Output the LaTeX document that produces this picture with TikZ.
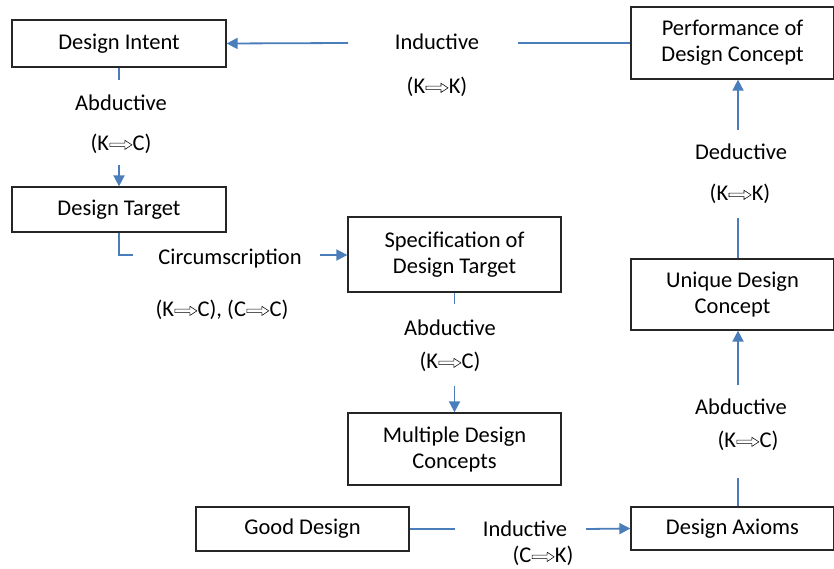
\documentclass[tikz,border=0pt]{standalone}
\usepackage{fontspec}
\setmainfont{Carlito}
\usetikzlibrary{arrows.meta}
\definecolor{conblue}{HTML}{4A7EBB}
\newcommand{\imp}{\hspace{0.5pt}\tikz[x=1pt,y=1pt,baseline=-5.8pt]{\draw[black, line width=0.55pt, fill=white, line join=miter]
  (0,-1.7) -- (15,-1.7) -- (15,-4.6) -- (22,0) -- (15,4.6) -- (15,1.7) -- (0,1.7) -- cycle;}\hspace{0.5pt}}
\begin{document}
\begin{tikzpicture}[x=1pt,y=-1pt,
  every node/.style={font=\fontsize{22.5}{26}\selectfont, text=black},
  box/.style={draw=black!85, line width=1.3pt, align=center, inner sep=0pt},
  lbl/.style={inner sep=0pt, anchor=center},
  con/.style={draw=conblue, line width=1.8pt},
  arr/.style={con, -{Triangle[length=11pt,width=11pt]}}]
\useasboundingbox (0,0) rectangle (834,569);
\fill[white] (0,0) rectangle (834,569);
% boxes
\node[box, minimum width=214pt, minimum height=47pt] (di) at (119,43.5) {Design Intent};
\node[box, minimum width=214pt, minimum height=45pt] (dt) at (119,209.5) {Design Target};
\node[box, minimum width=213pt, minimum height=75pt] (spec) at (454.5,254.5) {Specification of\\Design Target};
\node[box, minimum width=213pt, minimum height=72pt] (mdc) at (454.5,449) {Multiple Design\\Concepts};
\node[box, minimum width=213pt, minimum height=44pt] (gd) at (302.5,529) {Good Design};
\node[box, minimum width=203pt, minimum height=43pt] (da) at (732.5,528.5) {Design Axioms};
\node[box, minimum width=203pt, minimum height=71pt] (udc) at (732.5,294.5) {Unique Design\\Concept};
\node[box, minimum width=203pt, minimum height=72pt] (pdc) at (732.5,43) {Performance of\\Design Concept};
% labels
\node[lbl] (l1) at (437,42) {Inductive};
\node[lbl] (l1b) at (437,87) {(K\imp K)};
\node[lbl] (l2) at (121,103) {Abductive};
\node[lbl] (l2b) at (121,144) {(K\imp C)};
\node[lbl] (l3) at (230,259) {Circumscription};
\node[lbl] (l3b) at (222,310) {(K\imp C), (C\imp C)};
\node[lbl] (l4) at (450,328) {Abductive};
\node[lbl] (l4b) at (450,362) {(K\imp C)};
\node[lbl] (l5) at (525,529) {Inductive};
\node[lbl] (l5b) at (543,556) {(C\imp K)};
\node[lbl] (l6) at (741,407) {Abductive};
\node[lbl] (l6b) at (748,441) {(K\imp C)};
\node[lbl] (l7) at (741,152) {Deductive};
\node[lbl] (l7b) at (740,194) {(K\imp K)};
% connector end points
\coordinate (c1a) at (518,43);
\coordinate (c1b) at (348,43);
\coordinate (c2a) at (119,80);
\coordinate (c2b) at (119,165);
\coordinate (c3a) at (133,255);
\coordinate (c3b) at (320,255);
\coordinate (c4a) at (454.5,304);
\coordinate (c4b) at (454.5,386);
\coordinate (c5a) at (455,529);
\coordinate (c5b) at (586,529);
\coordinate (c6a) at (738,478);
\coordinate (c6b) at (738,385);
\coordinate (c7a) at (738,218);
\coordinate (c7b) at (738,130);
% connectors
\draw[con] (pdc.west) -- (c1a);
\draw[arr] (c1b) -- (di.east);
\draw[con] (di.south) -- (c2a);
\draw[arr] (c2b) -- (dt.north);
\draw[con] (dt.south) |- (c3a);
\draw[arr] (c3b) -- (c3b -| spec.west);
\draw[con] (spec.south) -- (c4a);
\draw[arr] (c4b) -- (mdc.north);
\draw[con] (gd.east) -- (c5a);
\draw[arr] (c5b) -- (da.west);
\draw[con] (c6a |- da.north) -- (c6a);
\draw[arr] (c6b) -- (c6b |- udc.south);
\draw[con] (c7a |- udc.north) -- (c7a);
\draw[arr] (c7b) -- (c7b |- pdc.south);
\end{tikzpicture}
\end{document}
